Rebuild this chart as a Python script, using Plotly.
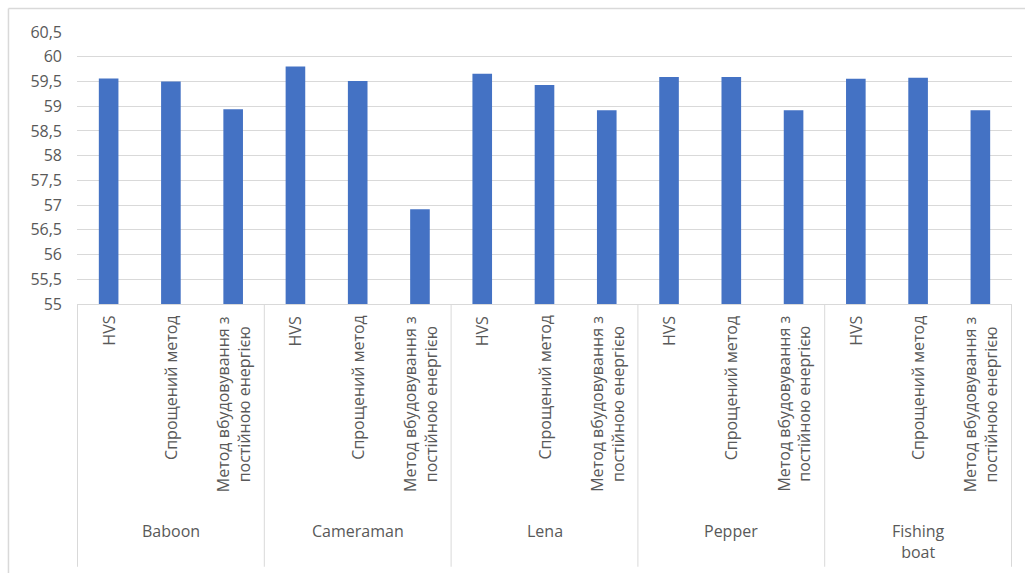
import plotly.graph_objects as go

# ---- data ----
groups = ["Baboon", "Cameraman", "Lena", "Pepper", "Fishing boat"]
group_labels = ["Baboon", "Cameraman", "Lena", "Pepper", "Fishing<br>boat"]
methods = ["HVS", "Спрощений метод", "Метод вбудовування з постійною енергією"]
method_labels = ["HVS", "Спрощений метод", "Метод вбудовування з<br>постійною енергією"]
hvs = [59.56, 59.80, 59.655, 59.59, 59.555]
simplified = [59.50, 59.51, 59.43, 59.59, 59.575]
const_energy = [58.94, 56.915, 58.92, 58.92, 58.92]
y_ticks = [55, 55.5, 56, 56.5, 57, 57.5, 58, 58.5, 59, 59.5, 60, 60.5]

series = [hvs, simplified, const_energy]
xkeys, yvals, xlabels = [], [], []
for gi, g in enumerate(groups):
    for mi, m in enumerate(methods):
        xkeys.append(f"{g} · {m}")
        yvals.append(series[mi][gi])
        xlabels.append(method_labels[mi])

TEXT = "#595959"
GRID = "#D9D9D9"
FONT = "Open Sans"

fig = go.Figure(go.Bar(x=xkeys, y=yvals, marker=dict(color="#4472C4", line=dict(width=0)),
                       hoverinfo="x+y"))

annotations = []
for k, lab in zip(xkeys, xlabels):
    annotations.append(dict(x=k, xref="x", y=0, yref="paper", yanchor="top", xanchor="center",
                            yshift=-10, text=lab, textangle=-90, align="center", showarrow=False,
                            font=dict(family=FONT, size=16, color=TEXT)))
n = len(methods)
for gi, lab in enumerate(group_labels):
    annotations.append(dict(x=xkeys[gi * n + n // 2], xref="x", y=0, yref="paper",
                            yanchor="top", xanchor="center", yshift=-214, text=lab,
                            showarrow=False, align="center",
                            font=dict(family=FONT, size=16, color=TEXT)))

shapes = []
for gi in range(len(groups) + 1):
    xpos = gi * n - 0.5
    shapes.append(dict(type="line", xref="x", yref="paper", x0=xpos, x1=xpos, y0=0, y1=-0.966,
                       line=dict(color=GRID, width=1)))
# outer chart border
shapes.append(dict(type="line", xref="paper", yref="paper", x0=-0.0733, x1=1.02, y0=1.0864, y1=1.0864,
                   line=dict(color=GRID, width=1.5)))
shapes.append(dict(type="line", xref="paper", yref="paper", x0=-0.0733, x1=-0.0733, y0=1.0864, y1=-1.05,
                   line=dict(color=GRID, width=1.5)))

fig.update_layout(
    width=1025, height=573,
    margin=dict(l=77, r=13, t=32, b=269),
    paper_bgcolor="white", plot_bgcolor="white",
    separators=", ",
    bargap=0.685,
    showlegend=False,
    annotations=annotations,
    shapes=shapes,
    font=dict(family=FONT, size=16, color=TEXT),
)
fig.update_xaxes(type="category", showticklabels=False, showgrid=False, showline=True,
                 linecolor=GRID, linewidth=1, ticks="", fixedrange=True)
fig.update_yaxes(range=[55, 60.5], tickvals=y_ticks, showgrid=True, gridcolor=GRID, gridwidth=1,
                 zeroline=False, showline=False, ticks="", ticklabelstandoff=14,
                 tickfont=dict(family=FONT, size=16, color=TEXT))

fig.write_html("out.html")
